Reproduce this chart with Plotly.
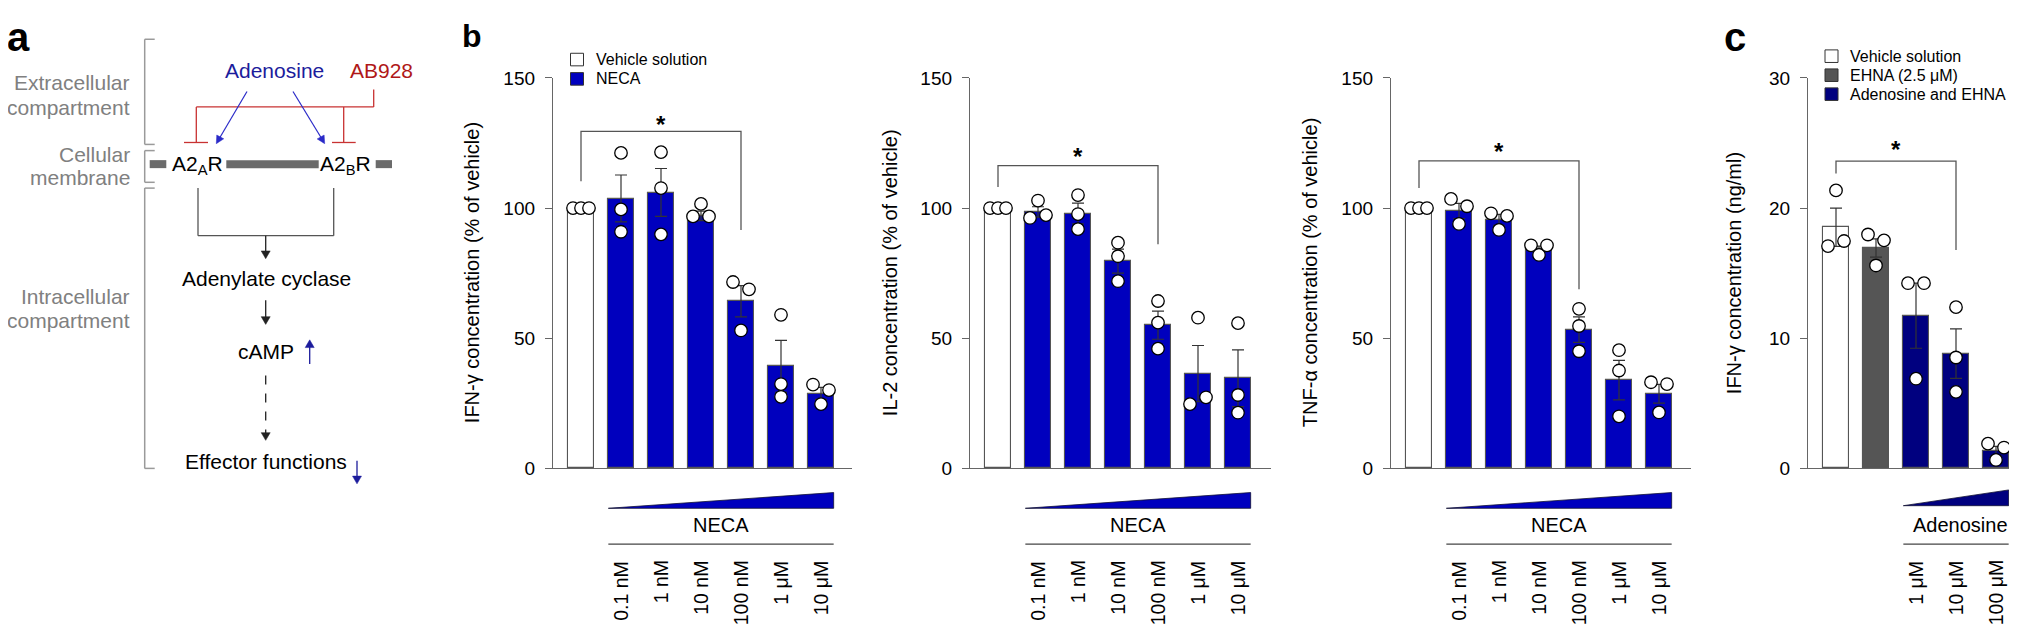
import math
import plotly.graph_objects as go

W, H = 2017, 627


def fx(x):
    return x / W


def fy(y):
    return 1 - y / H


FONT = "Liberation Sans, Arial, Helvetica, sans-serif"
BLUE = "#0000be"
NAVY = "#00007f"
EHNA_GREY = "#555555"
AXIS = "#666666"
DARK = "#333333"

# ---------------- data ----------------
neca_doses = ["0.1 nM", "1 nM", "10 nM", "100 nM", "1 μM", "10 μM"]
b_groups = ["Vehicle solution"] + neca_doses

ifn_mean = [100, 103.7, 106.0, 97.0, 64.2, 39.2, 28.8]
ifn_sem = [0, 9.0, 9.2, 1.8, 6.0, 10.0, 2.3]
ifn_pts = [[100, 100, 100], [121.2, 99.5, 90.9], [121.5, 107.7, 89.9],
           [96.8, 101.6, 96.8], [71.6, 53.0, 68.8], [59.0, 32.4, 27.5],
           [32.2, 24.7, 30.1]]

il2_mean = [100, 98.5, 97.9, 79.6, 55.0, 36.4, 34.6]
il2_sem = [0, 2.0, 4.0, 4.6, 5.4, 10.8, 10.9]
il2_pts = [[100, 100, 100], [96.2, 102.9, 97.3], [105.0, 97.7, 91.9],
           [86.7, 81.5, 71.9], [64.3, 56.0, 46.0], [24.7, 57.9, 27.3],
           [55.8, 28.2, 21.4]]

tnf_mean = [100, 98.9, 95.5, 84.4, 53.3, 33.9, 28.7]
tnf_sem = [0, 2.9, 2.1, 1.0, 4.9, 7.6, 3.6]
tnf_pts = [[100, 100, 100], [103.5, 93.9, 100.7], [98.0, 91.6, 97.0],
           [85.7, 82.0, 85.7], [61.3, 54.7, 45.0], [45.4, 37.6, 20.0],
           [33.1, 21.5, 32.4]]

ado_doses = ["1 μM", "10 μM", "100 μM"]
c_groups = ["Vehicle solution", "EHNA (2.5 μM)"] + ["Adenosine and EHNA " + d for d in ado_doses]
c_mean = [18.53, 16.93, 11.73, 8.82, 1.31]
c_sem = [1.47, 0.7, 2.5, 1.9, 0.38]
c_pts = [[17.08, 21.36, 17.47], [17.97, 15.59, 17.52], [14.23, 6.89, 14.23],
         [12.39, 8.52, 5.88], [1.90, 0.65, 1.60]]

# significance: (from group, to group, bracket level, left leg end, right leg end, star level)
ifn_sig = (0, 4, 129.5, 110.3, 91.6, 134.4)
il2_sig = (0, 4, 116.3, 108.1, 86.1, 122.1)
tnf_sig = (0, 4, 118.1, 107.7, 68.8, 124.0)
c_sig = (0, 3, 23.61, 22.66, 16.78, 24.95)

# ---------------- layout constants ----------------
TOP, BOT = 62, 466
SLOT = 40.0
PAD_L = 0.7
BAR_W = 0.633
MARK = 12.5

panels = [
    dict(left=545, right=844, title="IFN-γ concentration (% of vehicle)", tdx=81,
         ymax=150, tickvals=[0, 50, 100, 150], mean=ifn_mean, sem=ifn_sem, pts=ifn_pts,
         colors=["white"] + [BLUE] * 6, sig=ifn_sig, dose_name="NECA", doses=neca_doses,
         dcolor=BLUE, first=1),
    dict(left=962, right=1263, title="IL-2 concentration (% of vehicle)", tdx=80,
         ymax=150, tickvals=[0, 50, 100, 150], mean=il2_mean, sem=il2_sem, pts=il2_pts,
         colors=["white"] + [BLUE] * 6, sig=il2_sig, dose_name="NECA", doses=neca_doses,
         dcolor=BLUE, first=1),
    dict(left=1383, right=1683, title="TNF-α concentration (% of vehicle)", tdx=81,
         ymax=150, tickvals=[0, 50, 100, 150], mean=tnf_mean, sem=tnf_sem, pts=tnf_pts,
         colors=["white"] + [BLUE] * 6, sig=tnf_sig, dose_name="NECA", doses=neca_doses,
         dcolor=BLUE, first=1),
    dict(left=1800, right=2017, title="IFN-γ concentration (ng/ml)", tdx=74,
         ymax=30, tickvals=[0, 10, 20, 30], mean=c_mean, sem=c_sem, pts=c_pts,
         colors=["white", EHNA_GREY, NAVY, NAVY, NAVY], sig=c_sig, dose_name="Adenosine",
         doses=ado_doses, dcolor=NAVY, first=2),
]

fig = go.Figure()
shapes = []
annotations = []


def jitter(vals, px_per_unit, thr=12.0, off=0.2):
    order = sorted(range(len(vals)), key=lambda i: -vals[i])
    groups, cur = [], [order[0]]
    for a, b in zip(order, order[1:]):
        if (vals[a] - vals[b]) * px_per_unit < thr:
            cur.append(b)
        else:
            groups.append(cur)
            cur = [b]
    groups.append(cur)
    res = [0.0] * len(vals)
    for g in groups:
        g = sorted(g)
        if len(g) == 2:
            res[g[0]], res[g[1]] = -off, off
        elif len(g) >= 3:
            n = len(g)
            for k, i in enumerate(g):
                res[i] = -off + 2 * off * k / (n - 1)
    return res


layout_axes = {}
for k, p in enumerate(panels, start=1):
    xa = "x" if k == 1 else f"x{k}"
    ya = "y" if k == 1 else f"y{k}"
    n = len(p["mean"])
    width_px = p["right"] - p["left"]
    xr = [-PAD_L, -PAD_L + width_px / SLOT]
    ppu = (BOT - TOP) / p["ymax"]

    fig.add_trace(go.Bar(
        x=list(range(n)), y=p["mean"], width=BAR_W,
        marker=dict(color=p["colors"], line=dict(color="#555555", width=1.1)),
        error_y=dict(type="data", array=p["sem"], visible=True, color=DARK,
                     thickness=1.2, width=6),
        xaxis=xa, yaxis=ya, showlegend=False, hoverinfo="skip"))

    xs, ys = [], []
    for i, vals in enumerate(p["pts"]):
        offs = jitter(vals, ppu)
        for v, o in zip(vals, offs):
            xs.append(i + o)
            ys.append(v)
    fig.add_trace(go.Scatter(
        x=xs, y=ys, mode="markers",
        marker=dict(size=MARK, color="white", line=dict(color="black", width=1.3)),
        xaxis=xa, yaxis=ya, showlegend=False, hoverinfo="skip", cliponaxis=False))

    xkey = "xaxis" if k == 1 else f"xaxis{k}"
    ykey = "yaxis" if k == 1 else f"yaxis{k}"
    layout_axes[xkey] = dict(domain=[fx(p["left"]), min(1.0, fx(p["right"]))], range=xr,
                             anchor=ya, showline=True, linecolor=AXIS, linewidth=1.3,
                             showticklabels=False, ticks="", showgrid=False, zeroline=False,
                             fixedrange=True)
    layout_axes[ykey] = dict(domain=[fy(BOT), fy(TOP)], range=[0, p["ymax"]], anchor=xa,
                             tickvals=p["tickvals"], ticks="outside", ticklen=7,
                             tickwidth=1.3, tickcolor=AXIS, showline=True, linecolor=AXIS,
                             linewidth=1.3, showgrid=False, zeroline=False,
                             tickfont=dict(family=FONT, size=19, color="black"),
                             ticklabelstandoff=6, fixedrange=True)

    # axis title
    annotations.append(dict(text=p["title"], x=fx(p["left"] - p["tdx"]), y=fy((TOP + BOT) / 2),
                            xref="paper", yref="paper", textangle=-90, showarrow=False,
                            xanchor="center", yanchor="middle",
                            font=dict(family=FONT, size=20, color="black")))

    # significance bracket
    i0, i1, lvl, l0, l1, star = p["sig"]
    shapes.append(dict(type="path", xref=xa, yref=ya,
                       path=f"M {i0},{l0} L {i0},{lvl} L {i1},{lvl} L {i1},{l1}",
                       line=dict(color="#555555", width=1.3)))
    annotations.append(dict(text="*", x=(i0 + i1) / 2, y=star, xref=xa, yref=ya,
                            showarrow=False, xanchor="center", yanchor="middle", yshift=-6,
                            font=dict(family=FONT, size=24, color="black", weight="bold")))

    # dose wedge, label, line and dose tick labels
    first = p["first"]
    xl = first - BAR_W / 2
    xrt = n - 1 + BAR_W / 2
    wb, wt = (507.3, 491.0) if k < 4 else (504.6, 488.3)
    shapes.append(dict(type="path", xref=xa, yref="paper",
                       path=f"M {xl},{fy(wb)} L {xrt},{fy(wb)} L {xrt},{fy(wt)} Z",
                       fillcolor=p["dcolor"], line=dict(color="#111133", width=0.8)))
    annotations.append(dict(text=p["dose_name"], x=(xl + xrt) / 2 + (0.1 if k == 4 else 0),
                            y=fy(525), xref=xa, yref="paper", showarrow=False,
                            xanchor="center", yanchor="middle",
                            font=dict(family=FONT, size=20, color="black")))
    shapes.append(dict(type="line", xref=xa, yref="paper", x0=xl, x1=xrt,
                       y0=fy(544.3), y1=fy(544.3), line=dict(color="#444444", width=1.3)))
    for j, d in enumerate(p["doses"]):
        annotations.append(dict(text=d, x=first + j, y=fy(559.5), xref=xa, yref="paper",
                                textangle=-90, showarrow=False, xanchor="center",
                                yanchor="top",
                                font=dict(family=FONT, size=19.5, color="black")))

# ---------------- legends ----------------
def legend_item(x_sq, y_c, color, label, size=13):
    shapes.append(dict(type="rect", xref="paper", yref="paper",
                       x0=fx(x_sq), x1=fx(x_sq + size), y0=fy(y_c + size / 2), y1=fy(y_c - size / 2),
                       fillcolor=color, line=dict(color="#333333", width=1)))
    annotations.append(dict(text=label, x=fx(x_sq + size + 10), y=fy(y_c), xref="paper",
                            yref="paper", showarrow=False, xanchor="left", yanchor="middle",
                            font=dict(family=FONT, size=16, color="black")))


legend_item(562.5, 43, "white", b_groups[0])
legend_item(562.5, 63, BLUE, "NECA")
legend_item(1817, 39.5, "white", c_groups[0])
legend_item(1817, 59.2, EHNA_GREY, c_groups[1])
legend_item(1817, 78.8, NAVY, "Adenosine and EHNA")

# ---------------- panel letters ----------------
for t, x, y, s in [("a", 10, 20, 40), ("b", 464, 19, 32), ("c", 1727, 20, 40)]:
    annotations.append(dict(text=t, x=fx(x), y=fy(y), xref="paper", yref="paper",
                            showarrow=False, xanchor="center", yanchor="middle",
                            font=dict(family=FONT, size=s, color="black", weight="bold")))

# ---------------- panel a: schematic ----------------
GREYTXT = "#808080"
BR = "#9a9a9a"


def line(x0, y0, x1, y1, color, width=1.3, dash=None):
    d = dict(type="line", xref="paper", yref="paper", x0=fx(x0), y0=fy(y0), x1=fx(x1), y1=fy(y1),
             line=dict(color=color, width=width))
    if dash:
        d["line"]["dash"] = dash
    shapes.append(d)


def arrow(x0, y0, x1, y1, color, width=1.3, head=8, half=4, dash=None):
    dx, dy = x1 - x0, y1 - y0
    L = math.hypot(dx, dy)
    ux, uy = dx / L, dy / L
    bx, by = x1 - ux * head, y1 - uy * head
    line(x0, y0, bx + ux, by + uy, color, width, dash)
    nx, ny = -uy, ux
    pts = [(x1, y1), (bx + nx * half, by + ny * half), (bx - nx * half, by - ny * half)]
    path = "M " + " L ".join(f"{fx(a)},{fy(b)}" for a, b in pts) + " Z"
    shapes.append(dict(type="path", xref="paper", yref="paper", path=path,
                       fillcolor=color, line=dict(color=color, width=0.5)))


def text(t, x, y, color="black", size=21, anchor="center"):
    annotations.append(dict(text=t, x=fx(x), y=fy(y), xref="paper", yref="paper",
                            showarrow=False, xanchor=anchor, yanchor="middle",
                            font=dict(family=FONT, size=size, color=color)))


# side brackets
for y0, y1 in [(22, 130.8), (137.2, 170), (176, 466)]:
    line(146.7, y0, 136.7, y0, BR, 1.5)
    line(136.7, y0, 136.7, y1, BR, 1.5)
    line(136.7, y1, 146.7, y1, BR, 1.5)

text("Extracellular", 123.5, 67.2, GREYTXT, anchor="right")
text("compartment", 123.5, 92.8, GREYTXT, anchor="right")
text("Cellular", 123.5, 140.8, GREYTXT, anchor="right")
text("membrane", 123.5, 165.2, GREYTXT, anchor="right")
text("Intracellular", 123.5, 288, GREYTXT, anchor="right")
text("compartment", 123.5, 313.2, GREYTXT, anchor="right")

text("Adenosine", 266.7, 54, "#1c1c9c")
text("AB928", 373.3, 54, "#b01818")

RED = "#c83232"
line(365.7, 74, 365.7, 92, RED)
line(188.3, 92, 365.7, 92, RED)
line(188.3, 92, 188.3, 128.8, RED)
line(176, 128.8, 200, 128.8, RED)
line(335.7, 92, 335.7, 128.8, RED)
line(324, 128.8, 347.7, 128.8, RED)

ABLUE = "#2a2ac8"
arrow(239, 76, 208.3, 130, ABLUE, 1.2)
arrow(285, 76, 316.7, 130, ABLUE, 1.2)

MEM = "#6b6b6b"
for a, b in [(141.7, 158.3), (218.3, 310.7), (367.7, 384)]:
    line(a, 151.2, b, 151.2, MEM, 8)
text("A2<sub>A</sub>R", 189.2, 152)
text("A2<sub>B</sub>R", 337.5, 152)

line(190, 176, 190, 225.2, "#555555")
line(325.7, 176, 325.7, 225.2, "#555555")
line(190, 225.2, 325.7, 225.2, "#555555")
arrow(257.7, 225.2, 257.7, 249, "#222222", 1.3, 8, 4.5)
text("Adenylate cyclase", 258.3, 270)
arrow(257.7, 292, 257.7, 317, "#222222", 1.3, 8, 4.5)
text("cAMP", 257.7, 345)
arrow(301.7, 358, 301.7, 333, "#1c1c9c", 1.3, 8, 4.5)
arrow(257.7, 370, 257.7, 437, "#222222", 1.3, 8, 4.5, dash="dash")
text("Effector functions", 258.3, 459.2)
arrow(349, 458, 349, 482, "#1c1c9c", 1.3, 8, 4.5)

fig.update_layout(
    width=W, height=H, autosize=False,
    margin=dict(l=0, r=0, t=0, b=0),
    paper_bgcolor="white", plot_bgcolor="white",
    bargap=0, showlegend=False,
    shapes=shapes, annotations=annotations,
    font=dict(family=FONT),
    **layout_axes,
)

fig.write_html("out.html")
